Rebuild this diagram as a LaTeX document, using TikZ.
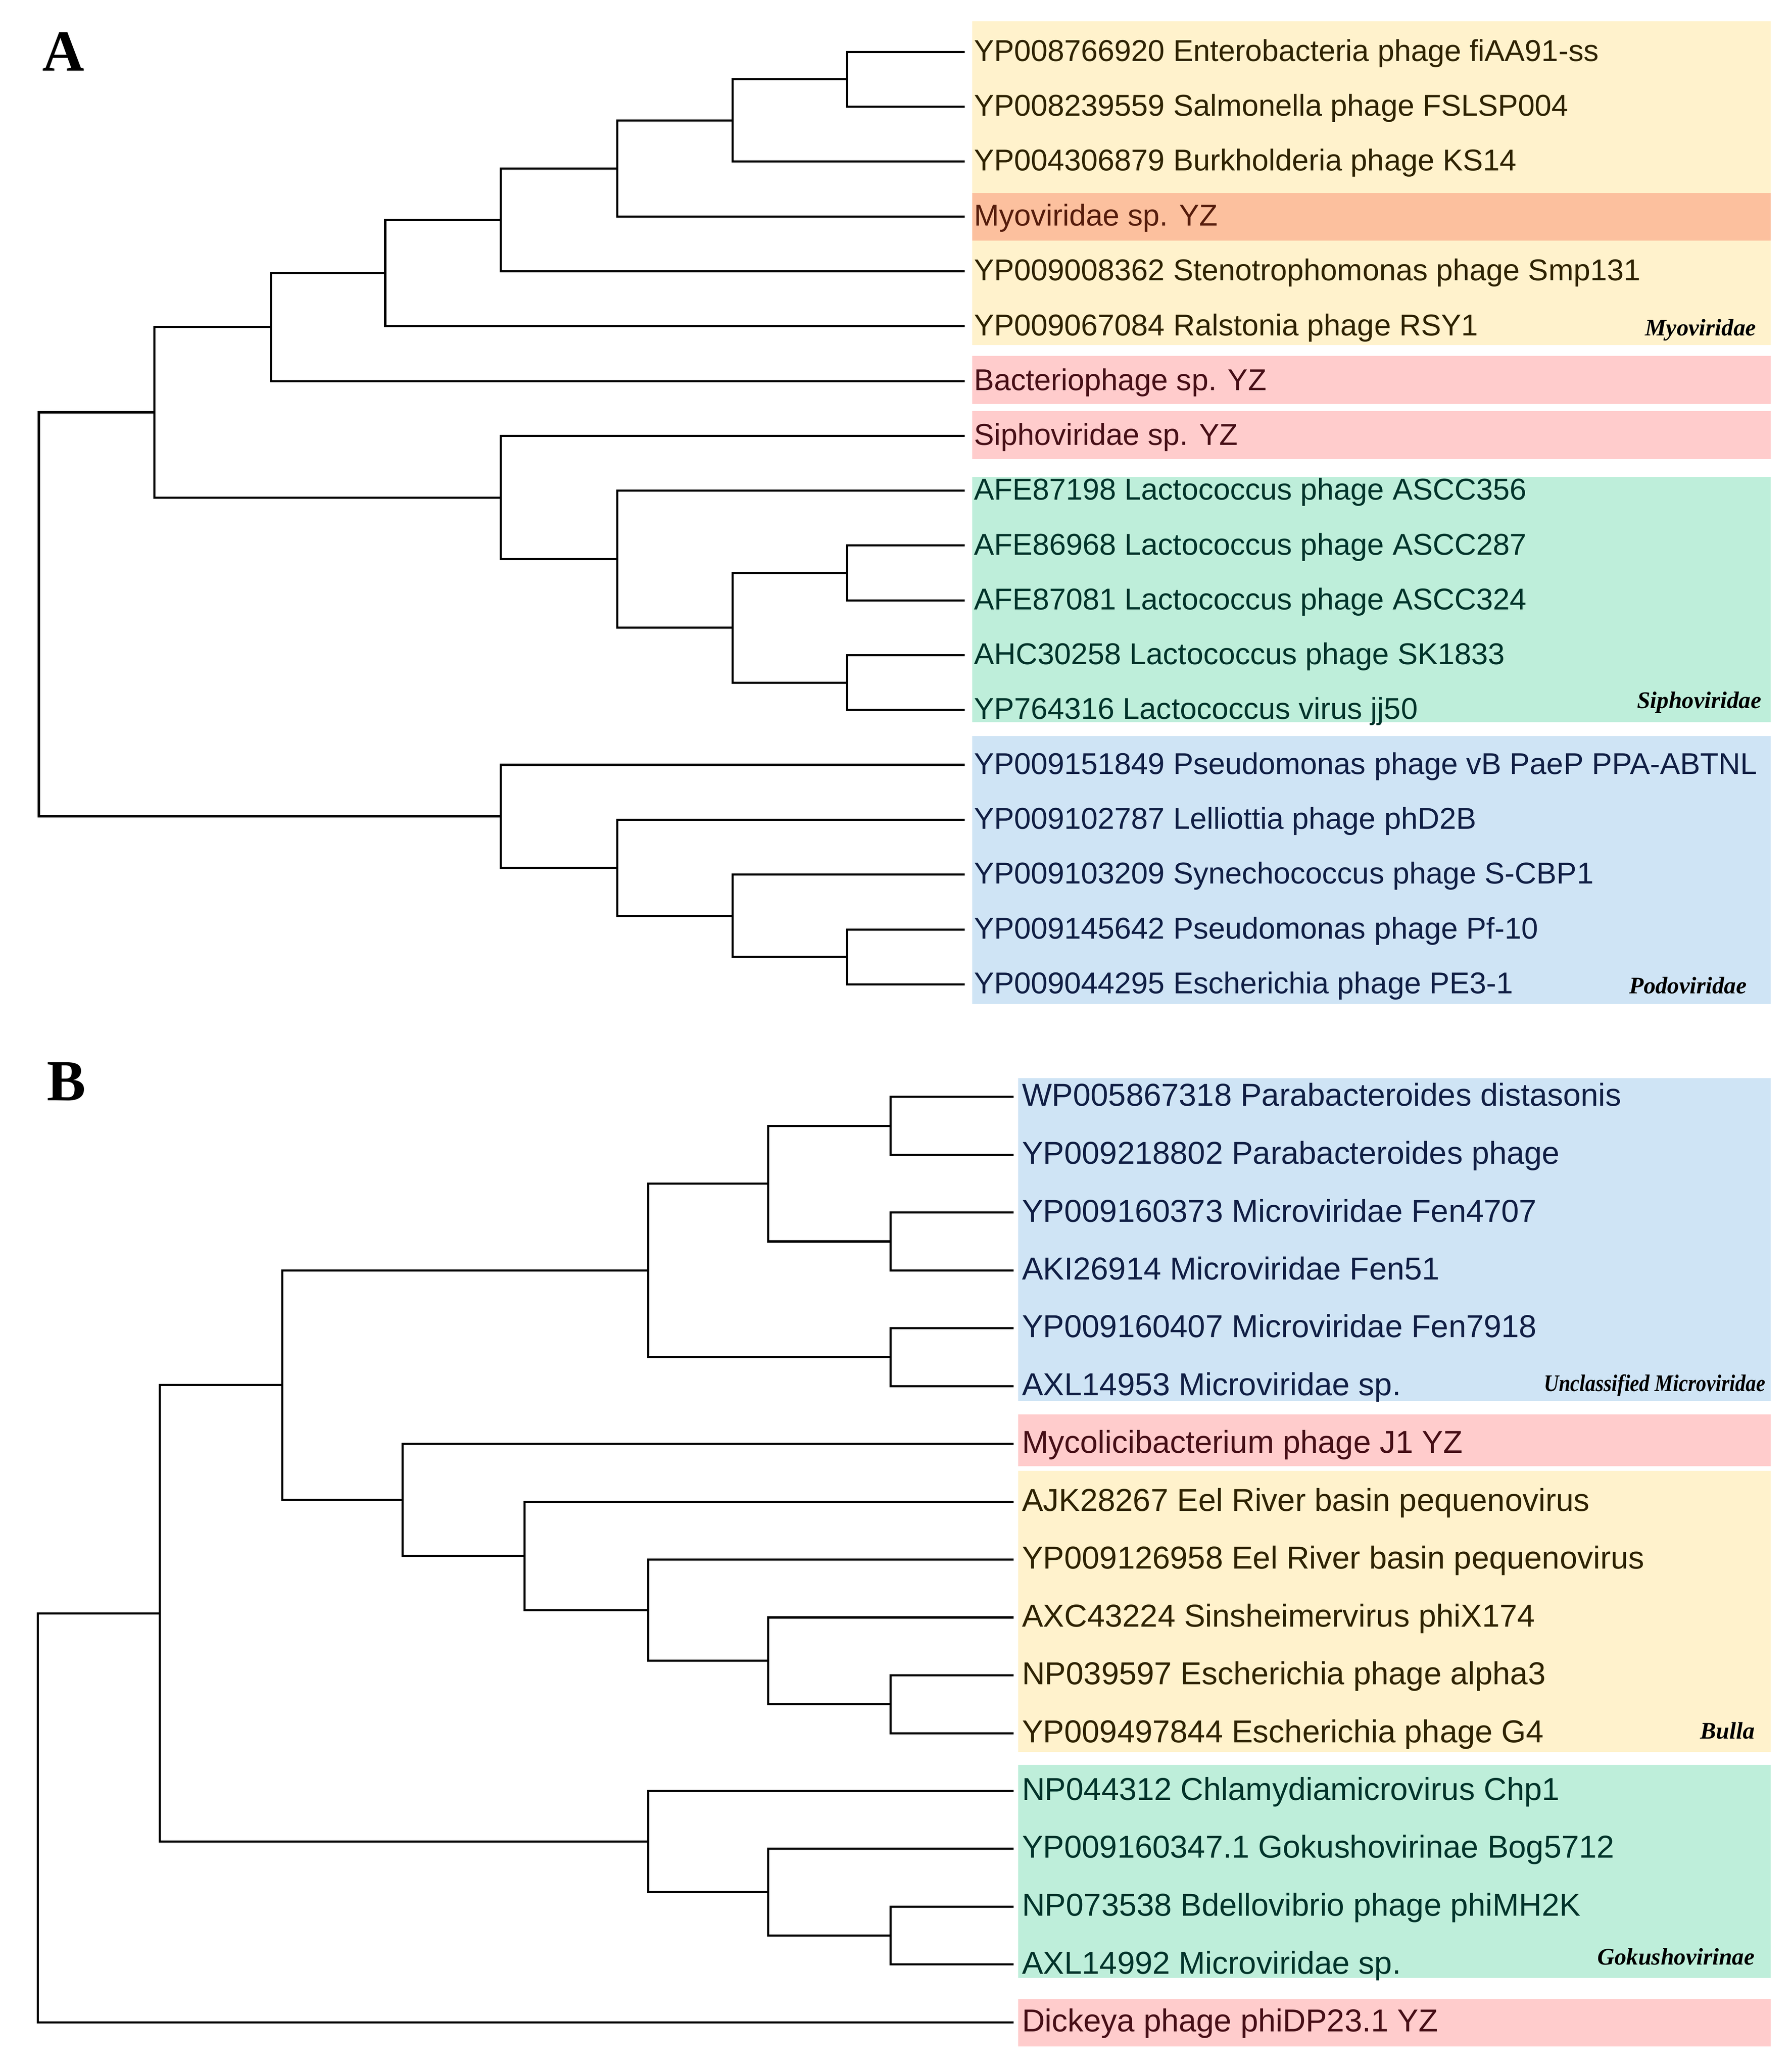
\documentclass[tikz,border=0pt]{standalone}
\usepackage{fontspec}
\newfontfamily\leaffont{Liberation Sans}
\newfontfamily\labfont{Liberation Serif}
\definecolor{cyel}{HTML}{FFF2CC}
\definecolor{cora}{HTML}{FCC09E}
\definecolor{cpink}{HTML}{FFCCCC}
\definecolor{cgreen}{HTML}{BEEEDA}
\definecolor{cblue}{HTML}{CFE4F5}
\definecolor{tyel}{HTML}{2E2200}
\definecolor{tora}{HTML}{551C0C}
\definecolor{tpink}{HTML}{460E16}
\definecolor{tgreen}{HTML}{00332A}
\definecolor{tblue}{HTML}{101E44}
\begin{document}
\begin{tikzpicture}[x=1pt,y=-1pt,
  branch/.style={line width=1.6pt, black, line join=miter},
  leafA/.style={anchor=base west, inner sep=0pt, font=\leaffont\fontsize{22.8}{26}\selectfont},
  leafB/.style={anchor=base west, inner sep=0pt, font=\leaffont\fontsize{24}{28}\selectfont},
  grp/.style={anchor=base east, inner sep=0pt, font=\labfont\bfseries\itshape\fontsize{18}{20}\selectfont},
  panel/.style={anchor=base west, inner sep=0pt, font=\labfont\bfseries\fontsize{44}{48}\selectfont}]
\useasboundingbox (0,0) rectangle (1356,1566);
\fill[white] (0,0) rectangle (1356,1566);

% ---------- Panel A bands ----------
\fill[cyel]   (735.8,16)    rectangle (1340,261);
\fill[cora]   (735.8,146)   rectangle (1340,182);
\fill[cpink]  (735.8,269.5) rectangle (1340,305.7);
\fill[cpink]  (735.8,311)   rectangle (1340,347.5);
\fill[cgreen] (735.8,361)   rectangle (1340,546.5);
\fill[cblue]  (735.8,557)   rectangle (1340,759.6);

% ---------- Panel B bands ----------
\fill[cblue]  (770.6,816.1)  rectangle (1340,1060.4);
\fill[cpink]  (770.6,1070.5) rectangle (1340,1109.8);
\fill[cyel]   (770.6,1113.3) rectangle (1340,1325.9);
\fill[cgreen] (770.6,1335.9) rectangle (1340,1497.1);
\fill[cpink]  (770.6,1513.2) rectangle (1340,1549);

\node[panel] (labA) at (32,53.5) {A};
\node[panel] (labB) at (35.5,833) {B};

% ---------- Panel A leaves ----------
\coordinate (a0)  at (730,39.3);
\coordinate (a1)  at (730,80.8);
\coordinate (a2)  at (730,122.3);
\coordinate (a3)  at (730,163.8);
\coordinate (a4)  at (730,205.3);
\coordinate (a5)  at (730,246.9);
\coordinate (a6)  at (730,288.4);
\coordinate (a7)  at (730,329.9);
\coordinate (a8)  at (730,371.4);
\coordinate (a9)  at (730,412.9);
\coordinate (a10) at (730,454.4);
\coordinate (a11) at (730,495.9);
\coordinate (a12) at (730,537.4);
\coordinate (a13) at (730,578.9);
\coordinate (a14) at (730,620.4);
\coordinate (a15) at (730,661.9);
\coordinate (a16) at (730,703.5);
\coordinate (a17) at (730,745.0);

\node[leafA,text=tyel]   (ta0)  at (736.8,46.3)  {YP008766920 Enterobacteria phage fiAA91-ss};
\node[leafA,text=tyel]   (ta1)  at (736.8,87.8)  {YP008239559 Salmonella phage FSLSP004};
\node[leafA,text=tyel]   (ta2)  at (736.8,129.3) {YP004306879 Burkholderia phage KS14};
\node[leafA,text=tora]   (ta3)  at (736.8,170.8) {Myoviridae sp. YZ};
\node[leafA,text=tyel]   (ta4)  at (736.8,212.3) {YP009008362 Stenotrophomonas phage Smp131};
\node[leafA,text=tyel]   (ta5)  at (736.8,253.9) {YP009067084 Ralstonia phage RSY1};
\node[leafA,text=tpink]  (ta6)  at (736.8,295.4) {Bacteriophage sp. YZ};
\node[leafA,text=tpink]  (ta7)  at (736.8,336.9) {Siphoviridae sp. YZ};
\node[leafA,text=tgreen] (ta8)  at (736.8,378.4) {AFE87198 Lactococcus phage ASCC356};
\node[leafA,text=tgreen] (ta9)  at (736.8,419.9) {AFE86968 Lactococcus phage ASCC287};
\node[leafA,text=tgreen] (ta10) at (736.8,461.4) {AFE87081 Lactococcus phage ASCC324};
\node[leafA,text=tgreen] (ta11) at (736.8,502.9) {AHC30258 Lactococcus phage SK1833};
\node[leafA,text=tgreen] (ta12) at (736.8,544.4) {YP764316 Lactococcus virus jj50};
\node[leafA,text=tblue]  (ta13) at (736.8,585.9) {YP009151849 Pseudomonas phage vB PaeP PPA-ABTNL};
\node[leafA,text=tblue]  (ta14) at (736.8,627.4) {YP009102787 Lelliottia phage phD2B};
\node[leafA,text=tblue]  (ta15) at (736.8,668.9) {YP009103209 Synechococcus phage S-CBP1};
\node[leafA,text=tblue]  (ta16) at (736.8,710.5) {YP009145642 Pseudomonas phage Pf-10};
\node[leafA,text=tblue]  (ta17) at (736.8,752.0) {YP009044295 Escherichia phage PE3-1};

\node[grp] (gMyo)  at (1329,254) {Myoviridae};
\node[grp] (gSiph) at (1333,536) {Siphoviridae};
\node[grp] (gPodo) at (1322,752) {Podoviridae};

% ---------- Panel A internal nodes ----------
\coordinate (n1) at (641,60.05);
\coordinate (n2) at (554.5,91.2);
\coordinate (n3) at (467,127.5);
\coordinate (n4) at (379,166.4);
\coordinate (n5) at (291.5,206.6);
\coordinate (n6) at (205,247.5);
\coordinate (s1) at (641,433.65);
\coordinate (s2) at (641,516.65);
\coordinate (s3) at (554.5,475.15);
\coordinate (s4) at (467,423.3);
\coordinate (s5) at (379,376.6);
\coordinate (n7) at (116.8,312.05);
\coordinate (p1) at (641,724.25);
\coordinate (p2) at (554.5,693.1);
\coordinate (p3) at (467,656.75);
\coordinate (p4) at (379,617.8);
\coordinate (rA) at (29.4,464.9);

\draw[branch] (a0) -| (n1) |- (a1);
\draw[branch] (n1) -| (n2) |- (a2);
\draw[branch] (n2) -| (n3) |- (a3);
\draw[branch] (n3) -| (n4) |- (a4);
\draw[branch] (n4) -| (n5) |- (a5);
\draw[branch] (n5) -| (n6) |- (a6);
\draw[branch] (a9) -| (s1) |- (a10);
\draw[branch] (a11) -| (s2) |- (a12);
\draw[branch] (s1) -| (s3) |- (s2);
\draw[branch] (a8) -| (s4) |- (s3);
\draw[branch] (a7) -| (s5) |- (s4);
\draw[branch] (n6) -| (n7) |- (s5);
\draw[branch] (a16) -| (p1) |- (a17);
\draw[branch] (a15) -| (p2) |- (p1);
\draw[branch] (a14) -| (p3) |- (p2);
\draw[branch] (a13) -| (p4) |- (p3);
\draw[branch] (n7) -| (rA) |- (p4);

% ---------- Panel B leaves ----------
\coordinate (b0)  at (767,830.2);
\coordinate (b1)  at (767,874.0);
\coordinate (b2)  at (767,917.8);
\coordinate (b3)  at (767,961.5);
\coordinate (b4)  at (767,1005.3);
\coordinate (b5)  at (767,1049.1);
\coordinate (b6)  at (767,1092.9);
\coordinate (b7)  at (767,1136.7);
\coordinate (b8)  at (767,1180.4);
\coordinate (b9)  at (767,1224.2);
\coordinate (b10) at (767,1268.0);
\coordinate (b11) at (767,1311.8);
\coordinate (b12) at (767,1355.6);
\coordinate (b13) at (767,1399.3);
\coordinate (b14) at (767,1443.1);
\coordinate (b15) at (767,1486.9);
\coordinate (b16) at (767,1530.7);

\node[leafB,text=tblue]  (tb0)  at (773.2,837.2)  {WP005867318 Parabacteroides distasonis};
\node[leafB,text=tblue]  (tb1)  at (773.2,881.0)  {YP009218802 Parabacteroides phage};
\node[leafB,text=tblue]  (tb2)  at (773.2,924.8)  {YP009160373 Microviridae Fen4707};
\node[leafB,text=tblue]  (tb3)  at (773.2,968.5)  {AKI26914 Microviridae Fen51};
\node[leafB,text=tblue]  (tb4)  at (773.2,1012.3) {YP009160407 Microviridae Fen7918};
\node[leafB,text=tblue]  (tb5)  at (773.2,1056.1) {AXL14953 Microviridae sp.};
\node[leafB,text=tpink]  (tb6)  at (773.2,1099.9) {Mycolicibacterium phage J1 YZ};
\node[leafB,text=tyel]   (tb7)  at (773.2,1143.7) {AJK28267 Eel River basin pequenovirus};
\node[leafB,text=tyel]   (tb8)  at (773.2,1187.4) {YP009126958 Eel River basin pequenovirus};
\node[leafB,text=tyel]   (tb9)  at (773.2,1231.2) {AXC43224 Sinsheimervirus phiX174};
\node[leafB,text=tyel]   (tb10) at (773.2,1275.0) {NP039597 Escherichia phage alpha3};
\node[leafB,text=tyel]   (tb11) at (773.2,1318.8) {YP009497844 Escherichia phage G4};
\node[leafB,text=tgreen] (tb12) at (773.2,1362.6) {NP044312 Chlamydiamicrovirus Chp1};
\node[leafB,text=tgreen] (tb13) at (773.2,1406.3) {YP009160347.1 Gokushovirinae Bog5712};
\node[leafB,text=tgreen] (tb14) at (773.2,1450.1) {NP073538 Bdellovibrio phage phiMH2K};
\node[leafB,text=tgreen] (tb15) at (773.2,1493.9) {AXL14992 Microviridae sp.};
\node[leafB,text=tpink]  (tb16) at (773.2,1537.7) {Dickeya phage phiDP23.1 YZ};

\node[grp,xscale=0.87] (gUnc)  at (1336,1053) {Unclassified Microviridae};
\node[grp] (gBul)  at (1328,1316) {Bulla};
\node[grp] (gGok)  at (1328,1487) {Gokushovirinae};

% ---------- Panel B internal nodes ----------
\coordinate (m1) at (673.8,852.1);
\coordinate (m2) at (673.8,939.65);
\coordinate (m3) at (673.8,1027.2);
\coordinate (m4) at (581.3,895.9);
\coordinate (m5) at (490.5,961.55);
\coordinate (c1) at (673.8,1289.9);
\coordinate (c2) at (581.3,1257.05);
\coordinate (c3) at (490.5,1218.7);
\coordinate (c4) at (397,1177.7);
\coordinate (c5) at (304.5,1135.3);
\coordinate (m6) at (213.7,1048.4);
\coordinate (g1) at (673.8,1465.0);
\coordinate (g2) at (581.3,1432.15);
\coordinate (g3) at (490.5,1393.9);
\coordinate (m7) at (121,1221.15);
\coordinate (rB) at (28.5,1375.9);

\draw[branch] (b0) -| (m1) |- (b1);
\draw[branch] (b2) -| (m2) |- (b3);
\draw[branch] (b4) -| (m3) |- (b5);
\draw[branch] (m1) -| (m4) |- (m2);
\draw[branch] (m4) -| (m5) |- (m3);
\draw[branch] (b10) -| (c1) |- (b11);
\draw[branch] (b9) -| (c2) |- (c1);
\draw[branch] (b8) -| (c3) |- (c2);
\draw[branch] (b7) -| (c4) |- (c3);
\draw[branch] (b6) -| (c5) |- (c4);
\draw[branch] (m5) -| (m6) |- (c5);
\draw[branch] (b14) -| (g1) |- (b15);
\draw[branch] (b13) -| (g2) |- (g1);
\draw[branch] (b12) -| (g3) |- (g2);
\draw[branch] (m6) -| (m7) |- (g3);
\draw[branch] (m7) -| (rB) |- (b16);
\end{tikzpicture}
\end{document}
